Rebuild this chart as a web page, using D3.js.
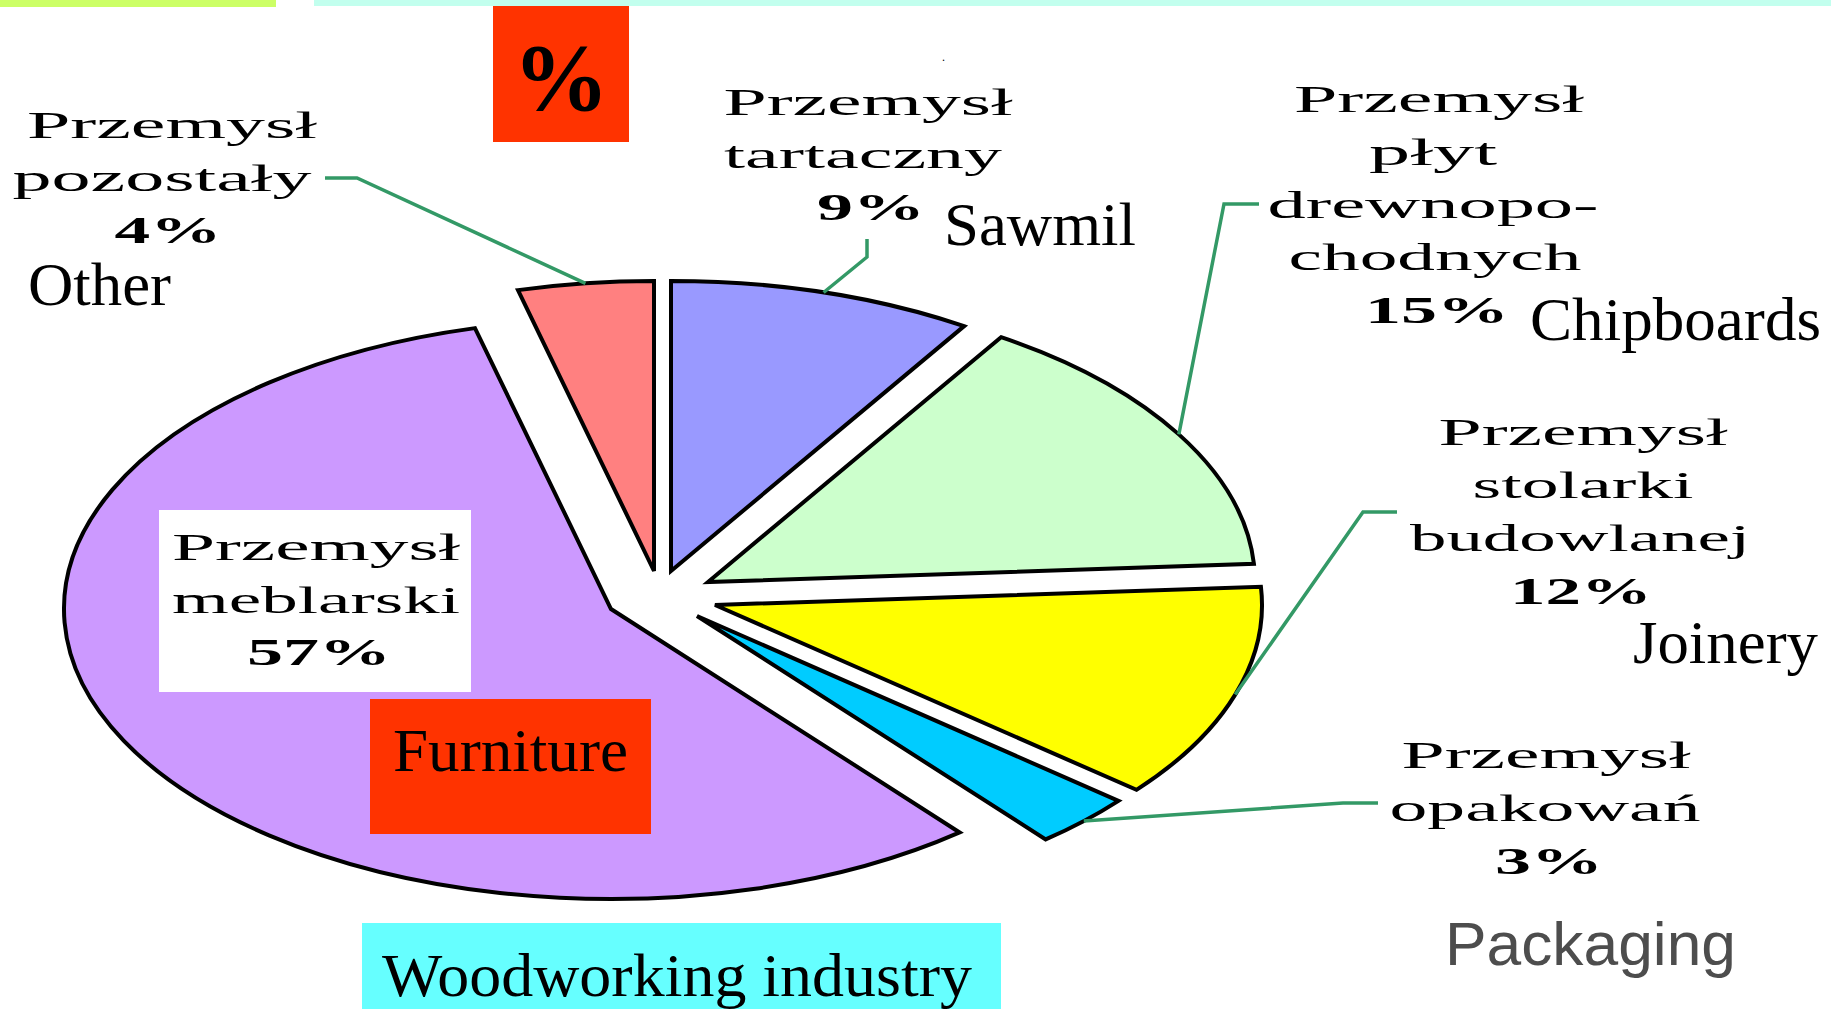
<!DOCTYPE html>
<html>
<head>
<meta charset="utf-8">
<script src="https://cdn.jsdelivr.net/npm/d3@7"></script>
<style>
  body { margin: 0; background: #fff; }
  svg { display: block; }
  .pl { font-family: "Liberation Serif", "Times New Roman", serif; font-size: 37px; fill: #000; }
  .pct { font-weight: bold; }
  .en { font-family: "Liberation Serif", "Times New Roman", serif; font-size: 62px; fill: #000; }
</style>
</head>
<body>
<div id="chart"></div>
<script>
  // wedges in drawing order, clockwise from 12 o'clock
  var sectorsEn = ['Sawmil', 'Chipboards', 'Joinery', 'Packaging', 'Furniture', 'Other'];
  var sectorsPl = [
    ['Przemysł', 'tartaczny'],
    ['Przemysł', 'płyt', 'drewnopo-', 'chodnych'],
    ['Przemysł', 'stolarki', 'budowlanej'],
    ['Przemysł', 'opakowań'],
    ['Przemysł', 'meblarski'],
    ['Przemysł', 'pozostały']
  ];
  var shares = [9, 15, 12, 3, 57, 4];
  var title = 'Woodworking industry';
  var unit = '%';

  var width = 1831, height = 1009;
  var cx = 656, cy = 597, rx = 547, ry = 290;

  var rows = sectorsEn.map(function(name, i) {
    return { name: name, pl: sectorsPl[i], share: shares[i] };
  });

  // per wedge: explode shift, label lines [center x, width] (last one is the %),
  // first baseline, line height, english label [x, baseline, width], leader elbow
  var layout = {
    Sawmil:     { shift: [15, -26], y: 115, lh: 52.5,
                  lines: [[868, 289], [863, 278], [871, 108]],
                  en: [944, 245, 192], lead: [[867, 257], [867, 239]] },
    Chipboards: { shift: [52, -15], y: 112, lh: 52.75,
                  lines: [[1439, 290], [1433, 128], [1433, 331], [1435, 293], [1437, 144]],
                  en: [1530, 340, 291], lead: [[1224, 204], [1259, 204]] },
    Joinery:    { shift: [59, 8], y: 445, lh: 53,
                  lines: [[1583, 289], [1583, 221], [1580, 340], [1581, 142]],
                  en: [1633, 663, 185], lead: [[1363, 512], [1397, 512]] },
    Packaging:  { shift: [41, 19], y: 768, lh: 53,
                  lines: [[1546, 289], [1545, 311], [1549, 108]],
                  en: [1445, 965, 291], lead: [[1343, 803], [1378, 803]] },
    Furniture:  { shift: [-45, 12], y: 560, lh: 52.5,
                  lines: [[316, 288], [316, 288], [319, 144]],
                  en: [393, 771, 235], lead: null },
    Other:      { shift: [-2, -26], y: 138, lh: 52.5,
                  lines: [[172, 290], [162, 299], [168, 107]],
                  en: [28, 305, 143], lead: [[357, 178], [325, 178]] }
  };

  var color = d3.scaleOrdinal()
    .domain(sectorsEn)
    .range(['#9999FF', '#CCFFCC', '#FFFF00', '#00CCFF', '#CC99FF', '#FF8080']);

  var svg = d3.select('#chart')
    .append('svg')
    .attr('width', width)
    .attr('height', height);

  // header strips
  svg.append('rect').attr('x', 0).attr('y', 0).attr('width', 276).attr('height', 7).attr('fill', '#CCFF66');
  svg.append('rect').attr('x', 314).attr('y', 0).attr('width', width - 314).attr('height', 6).attr('fill', '#C2FFEE');

  // "%" box
  svg.append('rect').attr('x', 493).attr('y', 6).attr('width', 136).attr('height', 136).attr('fill', '#FF3300');
  svg.append('text')
    .attr('x', 561).attr('y', 110)
    .attr('text-anchor', 'middle')
    .style('font-family', '"Liberation Serif", serif')
    .style('font-weight', 'bold')
    .style('font-size', '96px')
    .text(unit);
  svg.append('text')
    .attr('x', 942).attr('y', 61)
    .style('font-family', '"Liberation Serif", serif')
    .style('font-size', '12px')
    .text('.');

  var pie = d3.pie().sort(null).value(function(d) { return d.share; });
  var arc = d3.arc().innerRadius(0).outerRadius(rx);
  var arcs = pie(rows);

  arcs.forEach(function(a) {
    var s = layout[a.data.name].shift;
    a.mid = (a.startAngle + a.endAngle) / 2;
    a.ox = cx + s[0];
    a.oy = cy + s[1];
  });

  svg.selectAll('.slice')
    .data(arcs)
    .enter().append('g')
    .attr('class', 'slice')
    .attr('transform', function(d) { return 'translate(' + d.ox + ',' + d.oy + ') scale(1,' + (ry / rx) + ')'; })
    .append('path')
    .attr('d', arc)
    .attr('fill', function(d) { return color(d.data.name); })
    .attr('stroke', '#000')
    .attr('stroke-width', 4)
    .attr('vector-effect', 'non-scaling-stroke');

  // leader lines from the rim at the wedge's middle angle
  var line = d3.line();
  svg.selectAll('.leader')
    .data(arcs.filter(function(d) { return layout[d.data.name].lead; }))
    .enter().append('path')
    .attr('class', 'leader')
    .attr('d', function(d) {
      var p = [d.ox + rx * Math.sin(d.mid), d.oy - ry * Math.cos(d.mid)];
      return line([p].concat(layout[d.data.name].lead));
    })
    .attr('fill', 'none')
    .attr('stroke', '#339966')
    .attr('stroke-width', 3.5);

  // boxes behind furniture labels
  svg.append('rect').attr('x', 159).attr('y', 510).attr('width', 312).attr('height', 182).attr('fill', '#fff');
  svg.append('rect').attr('x', 370).attr('y', 699).attr('width', 281).attr('height', 135).attr('fill', '#FF3300');

  // polish labels + english names
  arcs.forEach(function(a) {
    var L = layout[a.data.name];
    var texts = a.data.pl.concat([a.data.share + '%']);
    var g = svg.append('g').attr('class', 'pl');
    texts.forEach(function(t, i) {
      g.append('text')
        .attr('class', i == texts.length - 1 ? 'pct' : null)
        .attr('x', L.lines[i][0] - L.lines[i][1] / 2)
        .attr('y', L.y + i * L.lh)
        .attr('textLength', L.lines[i][1])
        .attr('lengthAdjust', 'spacingAndGlyphs')
        .text(t);
    });

    var en = svg.append('text')
      .attr('class', 'en')
      .attr('x', L.en[0])
      .attr('y', L.en[1])
      .attr('textLength', L.en[2])
      .attr('lengthAdjust', 'spacingAndGlyphs')
      .text(a.data.name);
    if (a.data.name == 'Packaging') {
      en.style('font-family', '"Liberation Sans", Arial, sans-serif').style('fill', '#4D4D4D');
    }
  });

  // title box
  svg.append('rect').attr('x', 362).attr('y', 923).attr('width', 639).attr('height', 86).attr('fill', '#66FFFF');
  svg.append('text')
    .attr('class', 'en')
    .attr('x', 382).attr('y', 996)
    .attr('textLength', 590)
    .attr('lengthAdjust', 'spacingAndGlyphs')
    .text(title);
</script>
</body>
</html>
